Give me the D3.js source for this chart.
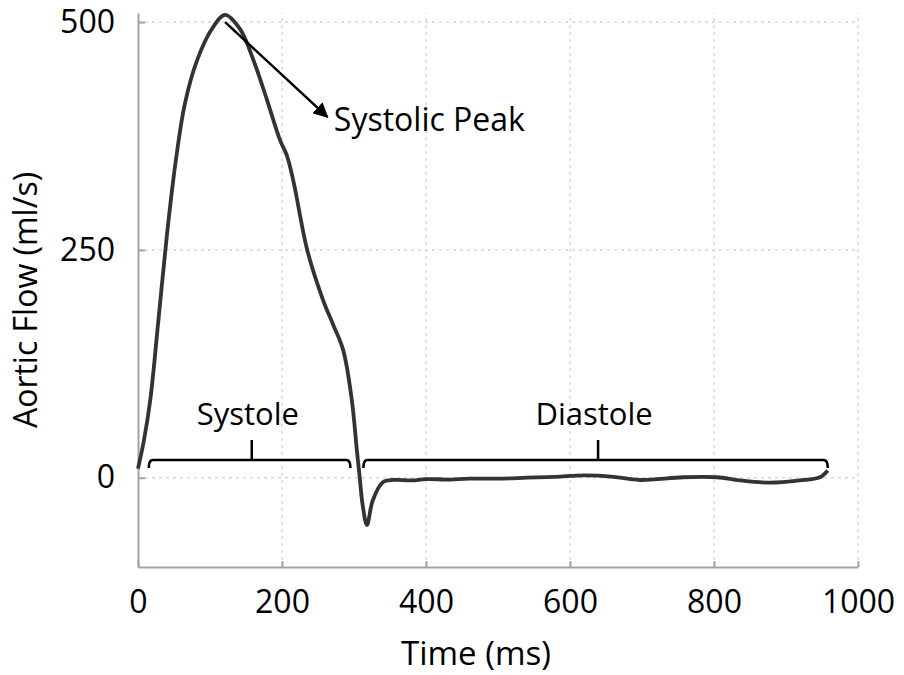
<!DOCTYPE html>
<html lang="en">

<head>
    <meta charset="UTF-8">
    <title>Aortic Flow</title>
    <script src="https://d3js.org/d3.v7.min.js"></script>
    <style>
        body {
            margin: 0;
            background: #fff;
        }

        text {
            font-family: "Open Sans", sans-serif;
            fill: #000;
        }

        .grid line {
            stroke: #d8d8d8;
            stroke-width: 1.5;
            stroke-dasharray: 3, 4;
        }

        .axis path,
        .axis line {
            stroke: #a3a3a3;
            stroke-width: 2;
        }
    </style>
</head>

<body>
    <script>
        // flow curve
        var timeMs = [0, 8, 17, 28, 40, 52, 65, 82, 103, 121, 142, 160, 179, 197, 207, 216, 235, 257, 271, 285,
            297, 304, 308, 312, 318, 326, 340, 355, 380, 400, 430, 460, 500, 540, 580, 620, 660, 697, 757, 804,
            836, 878, 919, 947, 958];
        var flow = [10, 40, 85, 170, 265, 345, 410, 458, 493, 508, 492, 459, 415, 371, 353, 325, 250, 195, 168, 140,
            85, 30, 0, -30, -52, -25, -5, -2.5, -3, -1.5, -2, -1, -1, 0, 1, 2.5, 1, -2.5, 0.5, 0.5,
            -3, -5.5, -3, 0.5, 8];

        var xTicks = [0, 200, 400, 600, 800, 1000];
        var yTicks = [0, 250, 500];

        // phase brackets
        var phaseNames = ["Systole", "Diastole"];
        var phaseStart = [15, 313];
        var phaseEnd = [295, 958];
        var phaseMid = [158, 639];

        var peakNote = "Systolic Peak";

        var width = 904,
            height = 675;
        var margin = { left: 138, right: 46, top: 13, bottom: 108 };

        var svg = d3.select("body").append("svg")
            .attr("width", width)
            .attr("height", height);

        var x = d3.scaleLinear()
            .domain([0, 1000])
            .range([margin.left, width - margin.right]);

        var y = d3.scaleLinear()
            .domain([-98, 510])
            .range([height - margin.bottom, margin.top]);

        // dotted grid
        var grid = svg.append("g").attr("class", "grid");
        grid.selectAll(".gx")
            .data(xTicks.slice(1))
            .enter().append("line")
            .attr("x1", d => x(d)).attr("x2", d => x(d))
            .attr("y1", y.range()[0]).attr("y2", y.range()[1]);
        grid.selectAll(".gy")
            .data(yTicks)
            .enter().append("line")
            .attr("x1", x.range()[0]).attr("x2", x.range()[1])
            .attr("y1", d => y(d)).attr("y2", d => y(d));

        // axes
        var xAxis = svg.append("g")
            .attr("class", "axis")
            .attr("transform", `translate(0,${y.range()[0]})`)
            .call(d3.axisBottom(x).tickValues(xTicks).tickFormat(d3.format("d"))
                .tickSizeInner(-6).tickSizeOuter(0).tickPadding(23));
        xAxis.selectAll("text").style("font-size", "32px");

        var yAxis = svg.append("g")
            .attr("class", "axis")
            .attr("transform", `translate(${x.range()[0]},0)`)
            .call(d3.axisLeft(y).tickValues(yTicks).tickSizeInner(-7).tickSizeOuter(0).tickPadding(23));
        yAxis.selectAll("text").style("font-size", "32px");

        svg.append("text")
            .attr("x", 476)
            .attr("y", 665)
            .attr("text-anchor", "middle")
            .style("font-size", "33px")
            .text("Time (ms)");

        svg.append("text")
            .attr("transform", "translate(37,300) rotate(-90)")
            .attr("text-anchor", "middle")
            .style("font-size", "32px")
            .text("Aortic Flow (ml/s)");

        // flow line
        var pts = timeMs.map((t, i) => [t, flow[i]]);
        var line = d3.line()
            .x(d => x(d[0]))
            .y(d => y(d[1]))
            .curve(d3.curveCatmullRom.alpha(0.5));

        svg.append("path")
            .datum(pts)
            .attr("d", line)
            .attr("fill", "none")
            .attr("stroke", "#333")
            .attr("stroke-width", 3.8)
            .attr("stroke-linejoin", "round");

        // brackets
        var by = y(19.5);
        phaseNames.forEach(function(name, i) {
            var x0 = x(phaseStart[i]),
                x1 = x(phaseEnd[i]),
                xm = x(phaseMid[i]);
            svg.append("path")
                .attr("d", `M${x0},${by + 8}Q${x0},${by} ${x0 + 4},${by}L${x1 - 4},${by}Q${x1},${by} ${x1},${by + 8}M${xm},${by}L${xm},${by - 20}`)
                .attr("fill", "none")
                .attr("stroke", "#000")
                .attr("stroke-width", 2.5);
            svg.append("text")
                .attr("x", xm - 4)
                .attr("y", by - 35)
                .attr("text-anchor", "middle")
                .style("font-size", "31px")
                .text(name);
        });

        // peak arrow
        svg.append("defs").append("marker")
            .attr("id", "arrow")
            .attr("viewBox", "0 0 10 10")
            .attr("refX", 9)
            .attr("refY", 5)
            .attr("markerWidth", 6)
            .attr("markerHeight", 6)
            .attr("orient", "auto")
            .append("path")
            .attr("d", "M0,0L10,5L0,10z")
            .attr("fill", "#000");

        svg.append("line")
            .attr("x1", x(121)).attr("y1", y(500))
            .attr("x2", x(263)).attr("y2", y(396))
            .attr("stroke", "#000")
            .attr("stroke-width", 2.5)
            .attr("marker-end", "url(#arrow)");

        svg.append("text")
            .attr("x", x(272))
            .attr("y", y(381))
            .style("font-size", "32px")
            .text(peakNote);
    </script>
</body>

</html>
